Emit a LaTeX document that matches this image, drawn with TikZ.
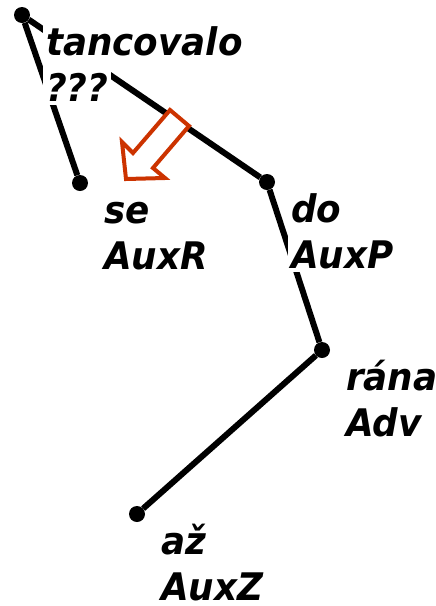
\documentclass[tikz,border=0pt]{standalone}
\usepackage{fontspec}
\setmainfont{DejaVu Sans}[FakeStretch=0.94]
\usetikzlibrary{calc}
\definecolor{hintcol}{HTML}{CC3300}

\begin{document}
\begin{tikzpicture}[
    x=1pt, y=-1pt,
    dot/.style={circle, fill=black, inner sep=0pt, minimum size=16pt},
    edge/.style={line width=6pt, black},
    lbl/.style={fill=white, inner xsep=3pt, inner ysep=2pt, anchor=base west,
                text height=30pt, text depth=12pt,
                font=\fontsize{38}{46}\selectfont\bfseries\itshape},
    tag/.style={lbl, text depth=2pt},
    hint/.style={draw=hintcol, line width=4pt, fill=white, line join=miter},
  ]
  \useasboundingbox (0,0) rectangle (436,606);

  \def\dx{21}   % label offset from its dot
  \def\dy{40}
  \def\gap{46}  % word -> tag baseline

  % =========================================================
  %  tree nodes
  % =========================================================
  \foreach \n/\px/\py in {root/22/15, se/80/183, do/267/182,
                          rana/322/350, az/137/514}{
    \node[dot] (\n) at (\px,\py) {};
  }

  % dependency edges
  \draw[edge] (root) -- (se);
  \draw[edge] (root) -- (do);
  \draw[edge] (do) -- (rana);
  \draw[edge] (rana) -- (az);

  % =========================================================
  %  word form + afun, white boxes hide the edges behind them
  % =========================================================
  \foreach \n/\w/\t in {root/tancovalo/???, se/se/AuxR, do/do/AuxP,
                        rana/rána/Adv, az/až/AuxZ}{
    \node[lbl] (\n-w) at ($(\n)+(\dx,\dy)$) {\w};
    \node[tag] (\n-t) at ($(\n-w.base west)+(0,\gap)$) {\t};
  }

  % hollow red arrow
  \draw[hint] (170,110) -- (133,153) -- (122,142) -- (126,179)
    -- (165,178) -- (153,168) -- (189,126) -- cycle;

\end{tikzpicture}
\end{document}
